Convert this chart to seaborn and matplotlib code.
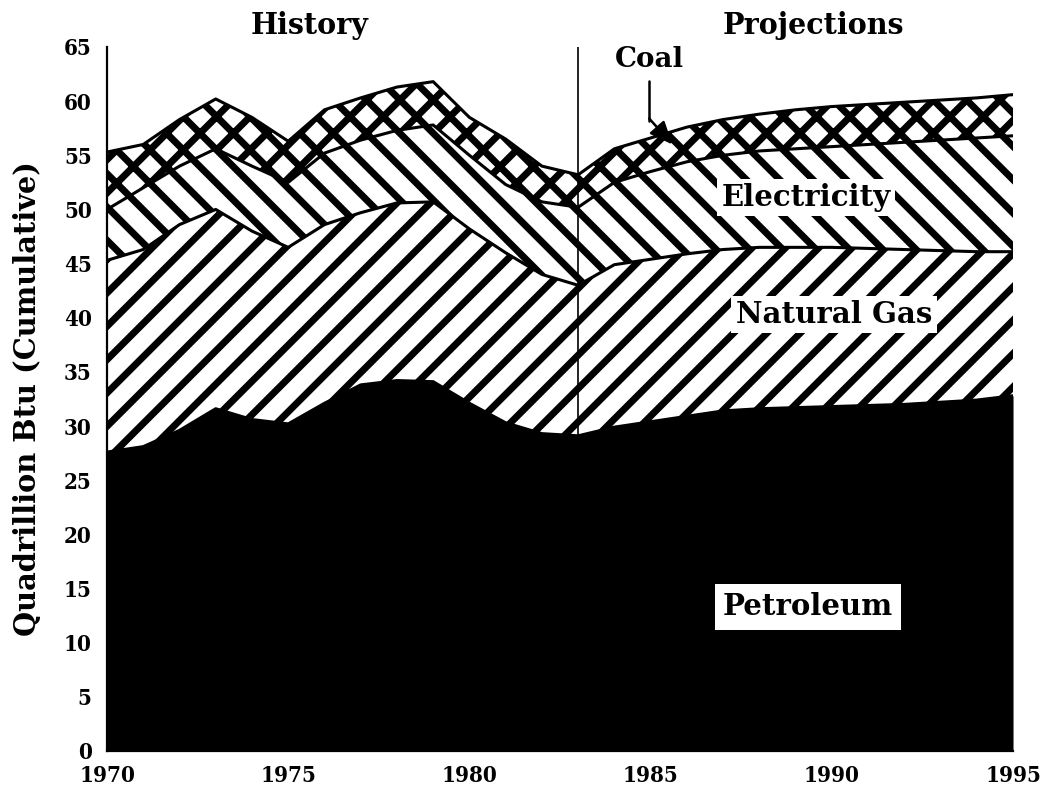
import numpy as np
import matplotlib
matplotlib.use("Agg")
import matplotlib.pyplot as plt
import seaborn as sns

# cumulative tops of each band (quadrillion Btu)
years = [1970, 1971, 1972, 1973, 1974, 1975, 1976, 1977, 1978, 1979, 1980, 1981, 1982, 1983,
         1984, 1985, 1986, 1987, 1988, 1989, 1990, 1991, 1992, 1993, 1994, 1995]
petroleum = [27.6, 28.1, 29.6, 31.6, 30.6, 30.2, 32.1, 33.8, 34.2, 34.1, 32.1, 30.3, 29.3, 29.1,
             29.9, 30.4, 30.9, 31.4, 31.6, 31.7, 31.8, 31.9, 32.0, 32.2, 32.4, 32.8]
natural_gas = [45.3, 46.3, 48.6, 50.0, 48.0, 46.5, 48.6, 49.7, 50.6, 50.7, 48.2, 46.0, 44.0, 43.0,
               44.9, 45.4, 45.9, 46.3, 46.5, 46.5, 46.5, 46.4, 46.3, 46.2, 46.1, 46.1]
electricity = [50.0, 52.0, 54.0, 55.6, 54.0, 52.5, 55.2, 56.4, 57.3, 57.8, 55.0, 52.3, 50.7, 50.2,
               52.5, 53.5, 54.4, 55.0, 55.4, 55.6, 55.8, 56.0, 56.2, 56.4, 56.6, 56.8]
coal = [55.3, 56.0, 58.3, 60.2, 58.5, 56.3, 59.2, 60.3, 61.3, 61.8, 58.5, 56.5, 54.0, 53.2,
        55.6, 56.6, 57.6, 58.3, 58.8, 59.2, 59.5, 59.7, 59.9, 60.1, 60.3, 60.6]
x_ticks = [1970, 1975, 1980, 1985, 1990, 1995]
y_ticks = list(range(0, 70, 5))

sns.set_style("white")
plt.rcParams["font.family"] = ["DejaVu Serif", "DejaVu Sans"]
plt.rcParams["font.weight"] = "bold"
plt.rcParams["hatch.linewidth"] = 2.5
for k in ["text.color", "axes.labelcolor", "xtick.color", "ytick.color", "axes.edgecolor"]:
    plt.rcParams[k] = "black"

fig = plt.figure(figsize=(5.225, 3.955), dpi=200)
ax = fig.add_axes([0.1024, 0.0506, 0.8670, 0.8900])

yr = np.array(years)
zero = np.zeros(len(yr))
ax.fill_between(yr, zero, petroleum, facecolor="black", edgecolor="black", linewidth=0)
ax.fill_between(yr, petroleum, natural_gas, facecolor="white", edgecolor="black", hatch="//", linewidth=0)
ax.fill_between(yr, natural_gas, electricity, facecolor="white", edgecolor="black", hatch="\\\\", linewidth=0)
ax.fill_between(yr, electricity, coal, facecolor="white", edgecolor="black", hatch="xx", linewidth=0)

for s in [petroleum, natural_gas, electricity, coal]:
    sns.lineplot(x=years, y=s, ax=ax, color="black", linewidth=1.1, legend=False)

ax.axvline(1983, color="black", linewidth=0.6, ymin=0, ymax=1)

ax.set_xlim(1970, 1995)
ax.set_ylim(0, 65)
ax.set_xticks(x_ticks)
ax.set_yticks(y_ticks)
ax.tick_params(axis="both", labelsize=8, direction="out", width=0.8, color="black")
ax.tick_params(axis="x", length=4, pad=1)
ax.tick_params(axis="y", length=4, pad=1.5)
for lab in ax.get_xticklabels() + ax.get_yticklabels():
    lab.set_fontweight("bold")
    lab.set_fontstretch("condensed")
ax.set_ylabel("Quadrillion Btu (Cumulative)", fontsize=10.4, fontweight="bold", labelpad=8)
ax.set_xlabel("")
sns.despine(ax=ax, top=True, right=True)
ax.spines["left"].set_linewidth(0.8)
ax.spines["bottom"].set_linewidth(0.8)

ax.text(1975.6, 67.0, "History", ha="center", va="center", fontsize=10.3, fontweight="bold")
ax.text(1989.5, 67.0, "Projections", ha="center", va="center", fontsize=10.3, fontweight="bold")
ax.text(1984.96, 63.8, "Coal", ha="center", va="center", fontsize=10, fontweight="bold")
ax.plot([1984.96, 1984.96], [61.9, 58.2], color="black", linewidth=0.9)
ax.annotate("", xy=(1985.6, 56.0), xytext=(1984.96, 58.4),
            arrowprops=dict(arrowstyle="-|>,head_length=0.7,head_width=0.3", color="black",
                            linewidth=0.9, shrinkA=0, shrinkB=0))
box = dict(boxstyle="square,pad=0.15", facecolor="white", edgecolor="none")
ax.text(1989.3, 51.1, "Electricity", ha="center", va="center", fontsize=10.5, fontweight="bold", bbox=box)
ax.text(1990.06, 40.3, "Natural Gas", ha="center", va="center", fontsize=10.5, fontweight="bold", bbox=box)
ax.text(1989.34, 13.3, "Petroleum", ha="center", va="center", fontsize=10.5, fontweight="bold",
        bbox=dict(boxstyle="square,pad=0.28", facecolor="white", edgecolor="none"))

fig.savefig("out.png", dpi=200)
